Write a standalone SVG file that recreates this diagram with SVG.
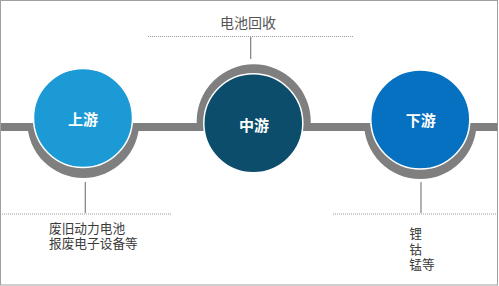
<svg xmlns="http://www.w3.org/2000/svg" width="499" height="286" viewBox="0 0 499 286">
<defs>
<style>
.ring{fill:#7f7f7f}
.node{stroke:#ffffff;stroke-width:1.5}
.lbl{font-family:"Noto Sans CJK SC","Noto Sans",sans-serif;font-size:15px;font-weight:bold;fill:#ffffff;text-anchor:middle}
.txt{font-family:"Liberation Sans","Noto Sans CJK SC",sans-serif;font-size:12.7px;fill:#3a3a3a}
.dot{stroke:#9a9a9a;stroke-width:1;stroke-dasharray:1 1;fill:none}
.vl{stroke:#7f7f7f;stroke-width:1.2;fill:none}
</style>
<clipPath id="below"><rect x="0" y="123" width="499" height="80"/></clipPath>
<clipPath id="above"><rect x="0" y="40" width="499" height="91"/></clipPath>
</defs>
<rect x="0.5" y="0.5" width="497" height="284.5" fill="#ffffff" stroke="#a0a0a0" stroke-width="1"/>
<g id="connectors">
<rect x="1" y="123" width="496.5" height="8" fill="#7f7f7f"/>
<line class="dot" x1="148" y1="36.5" x2="353" y2="36.5"/>
<line class="vl" x1="250.7" y1="37" x2="250.7" y2="59"/>
<line class="dot" x1="2" y1="214" x2="171" y2="214"/>
<line class="vl" x1="85.3" y1="182" x2="85.3" y2="213"/>
<line class="dot" x1="333" y1="214" x2="497" y2="214"/>
<line class="vl" x1="421" y1="182" x2="421" y2="213"/>
</g>
<g id="upstream">
<circle class="ring" cx="83.3" cy="122" r="56" clip-path="url(#below)"/>
<circle class="node" cx="83" cy="118" r="49.5" fill="#1c9ad6"/>
<text class="lbl" x="83" y="124.7">上游</text>
</g>
<g id="midstream">
<circle class="ring" cx="253.7" cy="121.3" r="57" clip-path="url(#above)"/>
<circle class="node" cx="253.3" cy="123.3" r="49.5" fill="#0b4d6b"/>
<text class="lbl" x="254" y="130.7">中游</text>
</g>
<g id="downstream">
<circle class="ring" cx="420.3" cy="122.7" r="56.3" clip-path="url(#below)"/>
<circle class="node" cx="420.3" cy="119.5" r="49.5" fill="#0670c1"/>
<text class="lbl" x="420.7" y="125.7">下游</text>
</g>
<g id="top-label">
<text class="txt" x="248" y="28" style="font-size:14px;fill:#555555;text-anchor:middle">电池回收</text>
</g>
<g id="left-label">
<text class="txt" x="49" y="232.5">废旧动力电池</text>
<text class="txt" x="49" y="247.5">报废电子设备等</text>
</g>
<g id="right-label">
<text class="txt" x="409.3" y="238">锂</text>
<text class="txt" x="409.3" y="254">钴</text>
<text class="txt" x="409.3" y="269">锰等</text>
</g>
</svg>
